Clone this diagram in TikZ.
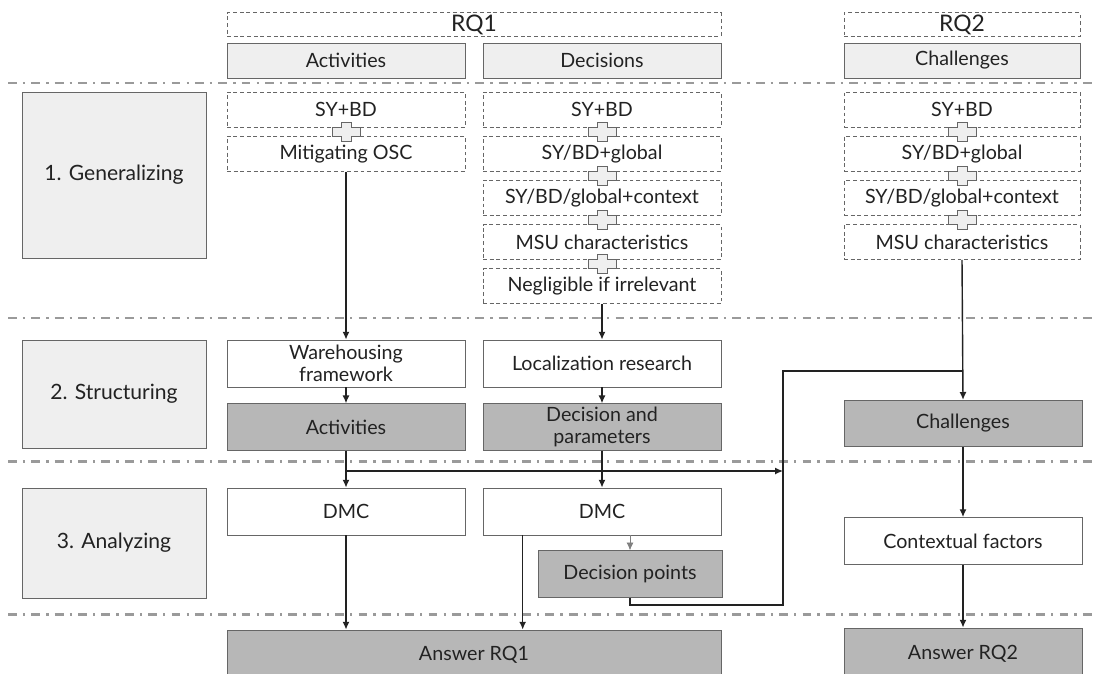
\documentclass[tikz,border=0pt]{standalone}
\usepackage{fontspec}
\setmainfont{Lato}
\usetikzlibrary{positioning,calc,arrows.meta}
\definecolor{ink}{HTML}{222222}
\definecolor{boxline}{HTML}{666666}
\definecolor{paleg}{HTML}{EFEFEF}
\definecolor{darkg}{HTML}{B7B7B7}
\definecolor{rulegray}{HTML}{9A9A9A}
\newcommand{\newBox}[4]{\node[#3](#1)[#4]{#2};}
\newcommand{\newFlow}[3]{\draw[flow,#3] (#1) -- (#2);}
\tikzset{
  base/.style={draw=boxline,text=ink,align=center,inner sep=1pt,
    font=\fontsize{11.2}{12.5}\selectfont},
  colwide/.style={minimum width=4.76cm},
  hdr/.style={base,colwide,fill=paleg,minimum height=0.7cm},
  idea/.style={base,colwide,dash pattern=on 2.2pt off 1.6pt,minimum height=0.7cm},
  plain/.style={base,colwide,fill=white,minimum height=0.94cm},
  result/.style={base,colwide,fill=darkg,minimum height=0.93cm},
  stage/.style={base,fill=paleg,minimum width=3.68cm,font=\fontsize{12}{14}\selectfont},
  phase/.style={draw=rulegray,line width=1.7pt,dash pattern=on 5pt off 3.5pt on 1.3pt off 3.5pt},
  flow/.style={-{Latex[length=4.5pt,width=4pt]},draw=ink,line width=0.8pt},
  joinplus/.pic={\draw[draw=boxline,fill=paleg,line width=0.5pt]
    (-5,-9.5) -- (5,-9.5) -- (5,-4.5) -- (14,-4.5) -- (14,4.5) -- (5,4.5) -- (5,9.5)
    -- (-5,9.5) -- (-5,4.5) -- (-14,4.5) -- (-14,-4.5) -- (-5,-4.5) -- cycle;}
}
\begin{document}
\begin{tikzpicture}[x=0.02cm,y=0.02cm,node distance=0.17cm]
  \useasboundingbox (0,0) rectangle (1095,-673);
  % phase separators
  \foreach \yy in {83,318,461,614}
    \draw[phase] (8,-\yy) -- (1095,-\yy);

  % headers
  \newBox{rq1}{RQ1}{base,idea,minimum width=9.88cm,minimum height=0.46cm,font=\fontsize{13}{14}\selectfont}{at={(474,-24.5)}}
  \newBox{rq2}{RQ2}{base,idea,minimum width=4.72cm,minimum height=0.46cm,font=\fontsize{13}{14}\selectfont}{at={(962,-24.5)}}
  \newBox{hAct}{Activities}{hdr}{at={(346,-60.5)}}
  \newBox{hDec}{Decisions}{hdr}{at={(602,-60.5)}}
  \newBox{hCha}{Challenges}{hdr,minimum width=4.72cm}{at={(962,-60.5)}}

  % stages
  \newBox{s1}{1. Generalizing}{stage,minimum height=3.32cm}{at={(114,-175)}}
  \newBox{s2}{2. Structuring}{stage,minimum height=2.16cm}{at={(114,-394)}}
  \newBox{s3}{3. Analyzing}{stage,minimum height=2.2cm}{at={(114,-543)}}

  % 1. generalizing
  \newBox{a1}{SY+BD}{idea}{at={(346,-109.5)}}
  \newBox{a2}{Mitigating OSC}{idea}{below=of a1}
  \newBox{d1}{SY+BD}{idea}{at={(602,-109.5)}}
  \newBox{d2}{SY/BD+global}{idea}{below=of d1}
  \newBox{d3}{SY/BD/global+context}{idea}{below=of d2}
  \newBox{d4}{MSU characteristics}{idea}{below=of d3}
  \newBox{d5}{Negligible if irrelevant}{idea}{below=of d4}
  \newBox{c1}{SY+BD}{idea,minimum width=4.72cm}{at={(962,-109.5)}}
  \newBox{c2}{SY/BD+global}{idea,minimum width=4.72cm}{below=of c1}
  \newBox{c3}{SY/BD/global+context}{idea,minimum width=4.72cm}{below=of c2}
  \newBox{c4}{MSU characteristics}{idea,minimum width=4.72cm}{below=of c3}
  \foreach \up/\dn in {a1/a2,d1/d2,d2/d3,d3/d4,d4/d5,c1/c2,c2/c3,c3/c4}
    \pic at ($(\up.south)!0.5!(\dn.north)$) {joinplus};

  % 2. structuring
  \newBox{whf}{Warehousing\\framework}{plain}{at={(346,-363.5)}}
  \newBox{act}{Activities}{result}{below=0.32cm of whf}
  \newBox{loc}{Localization research}{plain}{at={(602,-363.5)}}
  \newBox{dap}{Decision and\\parameters}{result}{below=0.32cm of loc}
  \newBox{cha}{Challenges}{result}{at={(963,-423.5)}}

  % 3. analyzing
  \newBox{dmc1}{DMC}{plain}{at={(346,-511.5)}}
  \newBox{dmc2}{DMC}{plain}{at={(602,-511.5)}}
  \newBox{dpt}{Decision points}{result,minimum width=3.68cm}{at={(630,-574)}}
  \newBox{ctx}{Contextual factors}{plain}{at={(963,-541)}}

  % answers
  \newBox{ans1}{Answer RQ1}{result,minimum width=9.88cm,minimum height=1cm}{at={(474,-655)}}
  \newBox{ans2}{Answer RQ2}{result,minimum height=1.04cm}{at={(963,-654)}}

  % connectors
  \coordinate (split) at (346,-471);
  \coordinate (loopB) at (783,-605);
  \coordinate (loopT) at (783,-371);
  \coordinate (dleft) at ($(dmc2.south west)+(40,0)$);
  \newFlow{a2.south}{whf.north}{}
  \newFlow{d5.south}{loc.north}{}
  \newFlow{c4.south}{cha.north}{}
  \newFlow{whf}{act}{}
  \newFlow{loc}{dap}{}
  \newFlow{act}{dmc1}{}
  \newFlow{split}{split -| loopT}{}
  \newFlow{dap}{dmc2}{}
  \newFlow{dpt.north |- dmc2.south}{dpt.north}{draw=gray,line width=0.5pt}
  \draw[draw=ink,line width=0.8pt] (dpt.south) -- (dpt.south |- loopB) -- (loopB)
    -- (loopT) -- (loopT -| cha.north);
  \newFlow{dmc1}{ans1.north -| dmc1}{}
  \newFlow{dleft}{dleft |- ans1.north}{}
  \newFlow{cha}{ctx}{}
  \newFlow{ctx}{ans2}{}
\end{tikzpicture}
\end{document}
